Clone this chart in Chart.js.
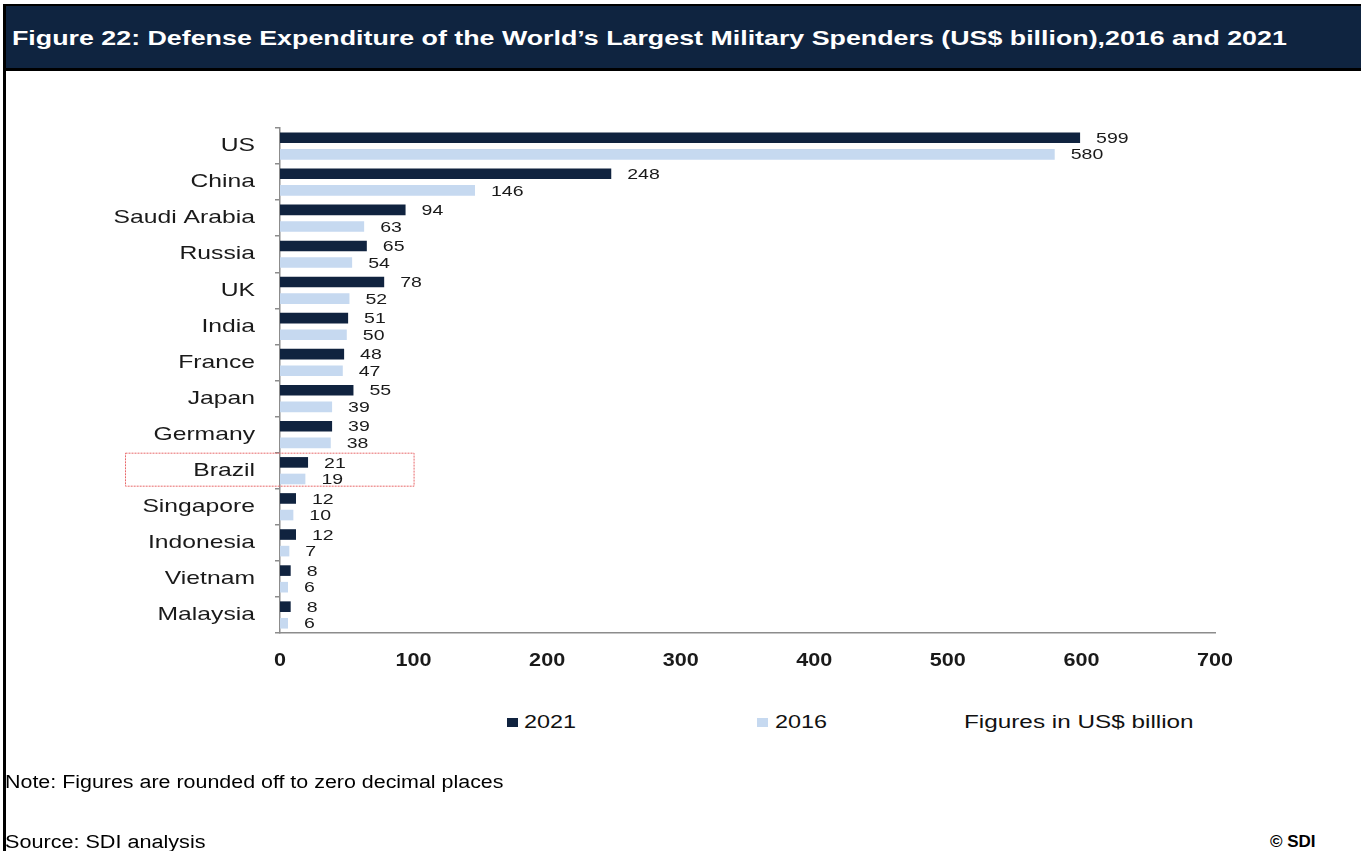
<!DOCTYPE html>
<html lang="en">
<head>
  <meta charset="UTF-8">
  <title>Defense Expenditure</title>
  <script src="https://cdn.jsdelivr.net/npm/chart.js"></script>
  <style>
    body { margin: 0; background: #fff; font-family: "Liberation Sans", Arial, sans-serif; }
    .page { position: relative; width: 1361px; height: 851px; overflow: hidden; }
    .header {
      position: absolute; left: 3px; top: 4px; width: 1358px; height: 62px;
      background: #0f2440; border-top: 2px solid #000; border-bottom: 3px solid #000;
    }
    .title {
      position: absolute; left: 12px; top: 27px; color: #fff; font-weight: bold; font-size: 20px;
      line-height: 22px; white-space: nowrap; transform: scaleX(1.34); transform-origin: left center;
    }
    .leftline { position: absolute; left: 3px; top: 4px; width: 3px; height: 847px; background: #000; }
    #wrap { position: absolute; left: 0; top: 0; width: 1361px; height: 700px; }
    .txt {
      position: absolute; font-size: 18px; color: #111; white-space: nowrap; line-height: 20px;
      transform-origin: left center;
    }
    .sw { position: absolute; width: 11px; height: 9px; }
  </style>
</head>
<body>
<div class="page">
  <div id="wrap"><canvas id="chart"></canvas></div>
  <div class="header"></div>
  <div class="title">Figure 22: Defense Expenditure of the World’s Largest Military Spenders (US$ billion),2016 and 2021</div>
  <div class="leftline"></div>

  <!-- legend row -->
  <div class="sw" style="left:507px; top:718px; background:#10233f"></div>
  <div class="txt" style="left:524px; top:712px; transform:scaleX(1.3);">2021</div>
  <div class="sw" style="left:757px; top:718px; background:#c6d9f0"></div>
  <div class="txt" style="left:775px; top:712px; transform:scaleX(1.3);">2016</div>
  <div class="txt" style="left:964px; top:712px; transform:scaleX(1.35);">Figures in US$ billion</div>

  <div class="txt" style="left:5px; top:772px; color:#000; transform:scaleX(1.19);">Note: Figures are rounded off to zero decimal places</div>
  <div class="txt" style="left:5px; top:832px; color:#000; transform:scaleX(1.2);">Source: SDI analysis</div>
  <div class="txt" style="left:1270px; top:832px; color:#000; font-weight:bold; font-size:17px;">© SDI</div>
</div>

<script>
const countries = ['US', 'China', 'Saudi Arabia', 'Russia', 'UK', 'India', 'France', 'Japan',
  'Germany', 'Brazil', 'Singapore', 'Indonesia', 'Vietnam', 'Malaysia'];
const spend2021 = [599, 248, 94, 65, 78, 51, 48, 55, 39, 21, 12, 12, 8, 8];
const spend2016 = [580, 146, 63, 54, 52, 50, 47, 39, 38, 19, 10, 7, 6, 6];
const xTicks = [0, 100, 200, 300, 400, 500, 600, 700];
const highlight = 'Brazil';

const FONT = '"Liberation Sans", Arial, sans-serif';

// text drawn wider than the font's natural width
function wideText(ctx, text, x, y, sx, align) {
  ctx.save();
  ctx.translate(x, y);
  ctx.scale(sx, 1);
  ctx.textAlign = align;
  ctx.fillText(text, 0, 0);
  ctx.restore();
}

// axis labels and value labels
const labelsPlugin = {
  id: 'labelsPlugin',
  afterDatasetsDraw(chart) {
    const ctx = chart.ctx;
    const x = chart.scales.x, y = chart.scales.y;
    const area = chart.chartArea;
    ctx.save();
    ctx.fillStyle = '#1a1a1a';
    ctx.textBaseline = 'middle';

    ctx.font = '15px ' + FONT;
    chart.data.datasets.forEach((ds, i) => {
      chart.getDatasetMeta(i).data.forEach((bar, j) => {
        wideText(ctx, String(ds.data[j]), bar.x + 16, bar.y + 1, 1.3, 'left');
      });
    });

    ctx.font = '19px ' + FONT;
    countries.forEach((c, i) => {
      wideText(ctx, c, area.left - 25, y.getPixelForValue(i), 1.3, 'right');
    });

    ctx.font = 'bold 18px ' + FONT;
    xTicks.forEach(v => {
      wideText(ctx, String(v), x.getPixelForValue(v), area.bottom + 28, 1.2, 'center');
    });
    ctx.restore();
  }
};

// dotted red box around the highlighted country
const highlightBox = {
  id: 'highlightBox',
  afterDraw(chart) {
    const y = chart.scales.y, x = chart.scales.x;
    const idx = countries.indexOf(highlight);
    const cy = y.getPixelForValue(idx);
    const right = x.getPixelForValue(100);
    const ctx = chart.ctx;
    ctx.save();
    ctx.strokeStyle = '#e8686a';
    ctx.lineWidth = 1;
    ctx.setLineDash([2, 1]);
    ctx.strokeRect(125.5, cy - 17.5, right - 125, 33);
    ctx.restore();
  }
};

new Chart(document.getElementById('chart'), {
  type: 'bar',
  data: {
    labels: countries,
    datasets: [
      { label: '2021', data: spend2021, backgroundColor: '#10233f' },
      { label: '2016', data: spend2016, backgroundColor: '#c6d9f0' }
    ]
  },
  options: {
    indexAxis: 'y',
    responsive: true,
    maintainAspectRatio: false,
    animation: false,
    categoryPercentage: 0.92,
    barPercentage: 0.64,
    layout: { padding: { top: 128, right: 146, left: 0, bottom: 0 } },
    plugins: { legend: { display: false }, tooltip: { enabled: false } },
    scales: {
      x: {
        min: 0, max: 700,
        afterFit(scale) { scale.height = 67; },
        afterBuildTicks(scale) { scale.ticks = xTicks.map(v => ({ value: v })); },
        grid: { display: false, drawTicks: false },
        border: { color: '#8c8c8c', width: 1.5 },
        ticks: { display: false }
      },
      y: {
        afterFit(scale) { scale.width = 280; },
        grid: { offset: true, drawOnChartArea: false, drawTicks: true, tickLength: 5, color: '#8c8c8c', lineWidth: 1.5 },
        border: { color: '#8c8c8c', width: 1.5 },
        ticks: { display: false }
      }
    }
  },
  plugins: [labelsPlugin, highlightBox]
});
</script>
</body>
</html>
